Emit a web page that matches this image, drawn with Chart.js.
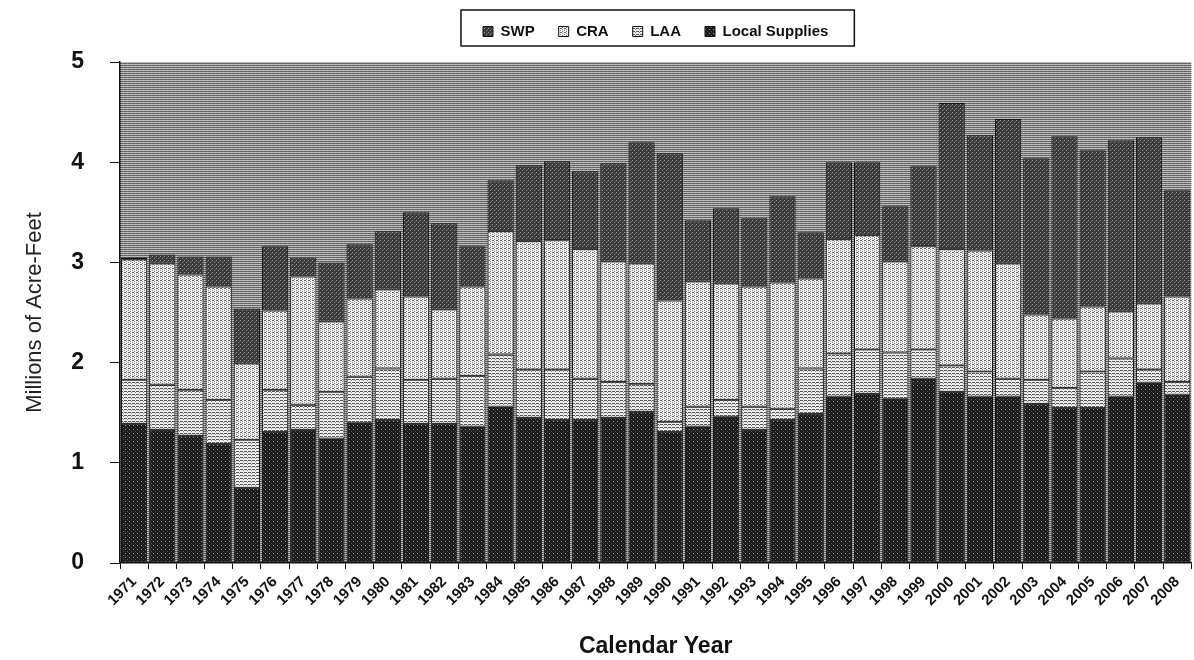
<!DOCTYPE html>
<html>
  <head>
    <title>Water Supplies 1971-2008</title>
    <script src="https://cdn.jsdelivr.net/npm/chart.js"></script>
    <style>
      body {
        margin: 0;
        background: #fff;
      }
      #wrap {
        width: 1194px;
        height: 660px;
      }
    </style>
  </head>
  <body>
    <div id="wrap">
      <canvas id="supplyChart" width="1194" height="660"></canvas>
    </div>

    <script>
      const years = [
        "1971", "1972", "1973", "1974", "1975", "1976", "1977", "1978", "1979", "1980",
        "1981", "1982", "1983", "1984", "1985", "1986", "1987", "1988", "1989", "1990",
        "1991", "1992", "1993", "1994", "1995", "1996", "1997", "1998", "1999", "2000",
        "2001", "2002", "2003", "2004", "2005", "2006", "2007", "2008",
      ];

      // millions of acre-feet, stacked bottom to top
      const localSupplies = [
        1.39, 1.33, 1.27, 1.19, 0.75, 1.31, 1.33, 1.24, 1.40, 1.43,
        1.39, 1.39, 1.36, 1.56, 1.45, 1.43, 1.43, 1.45, 1.51, 1.31,
        1.36, 1.46, 1.33, 1.43, 1.49, 1.66, 1.69, 1.64, 1.84, 1.71,
        1.66, 1.66, 1.59, 1.55, 1.55, 1.66, 1.80, 1.68,
      ];
      const laa = [
        0.44, 0.45, 0.46, 0.44, 0.48, 0.42, 0.25, 0.47, 0.46, 0.51,
        0.44, 0.45, 0.51, 0.52, 0.48, 0.50, 0.41, 0.36, 0.28, 0.10,
        0.20, 0.17, 0.23, 0.11, 0.45, 0.43, 0.44, 0.46, 0.29, 0.26,
        0.25, 0.18, 0.24, 0.20, 0.36, 0.38, 0.13, 0.13,
      ];
      const cra = [
        1.20, 1.21, 1.15, 1.13, 0.76, 0.79, 1.28, 0.70, 0.78, 0.79,
        0.83, 0.69, 0.89, 1.23, 1.28, 1.29, 1.29, 1.20, 1.20, 1.21,
        1.25, 1.16, 1.20, 1.26, 0.90, 1.14, 1.14, 0.91, 1.03, 1.16,
        1.21, 1.15, 0.65, 0.69, 0.65, 0.47, 0.66, 0.85,
      ];
      const swp = [
        0.02, 0.09, 0.18, 0.30, 0.55, 0.64, 0.19, 0.59, 0.54, 0.58,
        0.84, 0.86, 0.40, 0.51, 0.76, 0.79, 0.78, 0.98, 1.21, 1.47,
        0.61, 0.75, 0.68, 0.86, 0.46, 0.77, 0.73, 0.55, 0.80, 1.46,
        1.15, 1.44, 1.56, 1.82, 1.56, 1.71, 1.66, 1.06,
      ];
      const yTicks = [0, 1, 2, 3, 4, 5];

      const canvas = document.getElementById("supplyChart");
      const ctx = canvas.getContext("2d");

      // small tile patterns to mimic the scanned grey fills
      function tile(w, h, base, dots) {
        const c = document.createElement("canvas");
        c.width = w;
        c.height = h;
        const t = c.getContext("2d");
        t.fillStyle = base;
        t.fillRect(0, 0, w, h);
        dots.forEach(([x, y, col]) => {
          t.fillStyle = col;
          t.fillRect(x, y, 1, 1);
        });
        return ctx.createPattern(c, "repeat");
      }

      const plotBg = tile(4, 2, "#bcbcbc", [
        [0, 1, "#626262"], [1, 1, "#626262"], [2, 1, "#626262"], [3, 1, "#747474"],
      ]);
      const swpFill = tile(4, 4, "#3a3a3a", [
        [0, 0, "#9a9a9a"], [2, 2, "#8a8a8a"], [3, 1, "#666"],
      ]);
      const craFill = tile(4, 4, "#f2f2f2", [
        [0, 0, "#666"], [1, 0, "#666"], [0, 2, "#888"], [2, 1, "#999"], [2, 3, "#777"],
      ]);
      const laaFill = tile(4, 3, "#eeeeee", [
        [0, 1, "#555"], [1, 1, "#555"], [2, 1, "#555"], [3, 2, "#888"],
      ]);
      const localFill = tile(4, 4, "#1c1c1c", [
        [1, 1, "#9c9c9c"], [3, 3, "#555"],
      ]);

      const plotBackground = {
        id: "plotBackground",
        beforeDraw(chart) {
          const a = chart.chartArea;
          const c = chart.ctx;
          c.save();
          c.fillStyle = plotBg;
          c.fillRect(a.left, a.top, a.right - a.left, a.bottom - a.top);
          c.restore();
        },
      };

      // fix the legend band height so the plot starts where it does in the original
      const legendBand = {
        id: "legendBand",
        beforeLayout(chart) {
          const lg = chart.legend;
          if (lg && !lg._bandPatched) {
            const fit = lg.fit.bind(lg);
            lg.fit = function () {
              fit();
              this.height = 62;
            };
            lg._bandPatched = true;
          }
        },
        afterDraw(chart) {
          const lg = chart.legend;
          if (!lg || !lg.legendHitBoxes.length) return;
          const boxes = lg.legendHitBoxes;
          const left = Math.min(...boxes.map((b) => b.left)) - 22;
          const right = Math.max(...boxes.map((b) => b.left + b.width)) + 26;
          const c = chart.ctx;
          c.save();
          c.strokeStyle = "#111";
          c.lineWidth = 1.5;
          c.strokeRect(left, 10, right - left, 36);
          c.restore();
        },
      };

      new Chart(ctx, {
        type: "bar",
        data: {
          labels: years,
          datasets: [
            { label: "Local Supplies", data: localSupplies, backgroundColor: localFill },
            { label: "LAA", data: laa, backgroundColor: laaFill },
            { label: "CRA", data: cra, backgroundColor: craFill },
            { label: "SWP", data: swp, backgroundColor: swpFill },
          ],
        },
        options: {
          responsive: false,
          animation: false,
          layout: { padding: { top: 0, left: 0, right: 0, bottom: 0 } },
          datasets: {
            bar: {
              categoryPercentage: 1,
              barPercentage: 0.93,
              borderColor: "#111",
              borderWidth: 1,
              borderSkipped: false,
            },
          },
          plugins: {
            legend: {
              position: "top",
              fullSize: false,
              reverse: true,
              labels: {
                boxWidth: 10,
                boxHeight: 10,
                padding: 24,
                color: "#111",
                font: { family: "Arial, 'Liberation Sans'", size: 15, weight: "bold" },
              },
            },
            tooltip: { enabled: false },
          },
          scales: {
            x: {
              stacked: true,
              afterFit: (s) => {
                s.height = 97;
              },
              grid: {
                drawOnChartArea: false,
                drawTicks: true,
                tickLength: 6,
                color: "#111",
              },
              border: { display: true, color: "#111", width: 1.5 },
              ticks: {
                autoSkip: false,
                maxRotation: 45,
                minRotation: 45,
                padding: 4,
                color: "#111",
                font: { family: "Arial, 'Liberation Sans'", size: 15, weight: "bold" },
              },
              title: {
                display: true,
                text: "Calendar Year",
                color: "#111",
                padding: { top: 0, bottom: 0 },
                font: { family: "Arial, 'Liberation Sans'", size: 23, weight: "bold" },
              },
            },
            y: {
              stacked: true,
              min: 0,
              max: 5,
              afterFit: (s) => {
                s.width = 120;
              },
              afterBuildTicks: (s) => {
                s.ticks = yTicks.map((v) => ({ value: v }));
              },
              grid: {
                drawOnChartArea: false,
                drawTicks: true,
                tickLength: 10,
                color: "#111",
              },
              border: { display: true, color: "#111", width: 1.5 },
              ticks: {
                padding: 26,
                color: "#111",
                font: { family: "Arial, 'Liberation Sans'", size: 23, weight: "bold" },
              },
              title: {
                display: true,
                text: "Millions of Acre-Feet",
                color: "#222",
                padding: { top: 22, bottom: 0 },
                font: { family: "Arial, 'Liberation Sans'", size: 22 },
              },
            },
          },
        },
        plugins: [plotBackground, legendBand],
      });
    </script>
  </body>
</html>
